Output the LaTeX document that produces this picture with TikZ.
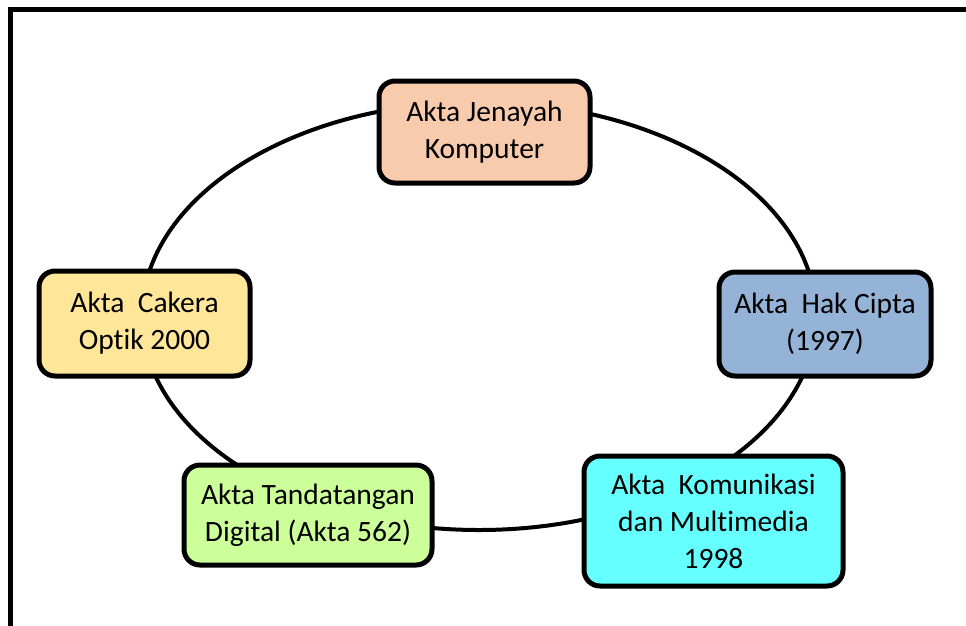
\documentclass[tikz,border=0pt]{standalone}
\usepackage{fontspec}
\setmainfont[Ligatures={NoCommon}]{Carlito}
\definecolor{peach}{HTML}{F8CBAD}
\definecolor{steel}{HTML}{95B3D7}
\definecolor{aqua}{HTML}{66FFFF}
\definecolor{lime}{HTML}{CCFF99}
\definecolor{butter}{HTML}{FFE699}
\tikzset{
  akta/.style={draw=black, line width=5pt, rounded corners=16pt, align=center,
    inner sep=0pt, font=\fontsize{29.5}{37}\selectfont, text=black},
  ring/.style={draw=black, line width=4pt}
}
\begin{document}
\begin{tikzpicture}[x=1pt,y=-1pt]
\useasboundingbox (0,0) rectangle (966,625);
\fill[white] (0,0) rectangle (966,625);
% frame
\coordinate (ftr) at (966,9.5);
\coordinate (ftl) at (10,9.5);
\coordinate (fbl) at (10,625);
\draw[line width=5pt, line cap=rect] (ftr) -- (ftl) -- (fbl);
% ring
\coordinate (c) at (479,316);
\draw[ring] (c) ellipse [x radius=337, y radius=214];
% boxes
\node[akta, fill=peach, minimum width=211pt, minimum height=102pt] (jenayah) at (484.5,132) {Akta Jenayah\\Komputer};
\node[akta, fill=steel, minimum width=212pt, minimum height=104pt] (hakcipta) at (825,324) {Akta\ \ Hak Cipta\\(1997)};
\node[akta, fill=aqua, minimum width=259pt, minimum height=130pt] (komunikasi) at (713.5,521) {Akta\ \ Komunikasi\\dan Multimedia\\1998};
\node[akta, fill=lime, minimum width=248pt, minimum height=100pt] (tandatangan) at (308,515) {Akta Tandatangan\\Digital (Akta 562)};
\node[akta, fill=butter, minimum width=211pt, minimum height=105pt] (cakera) at (144.5,323.5) {Akta\ \ Cakera\\Optik 2000};
\end{tikzpicture}
\end{document}
